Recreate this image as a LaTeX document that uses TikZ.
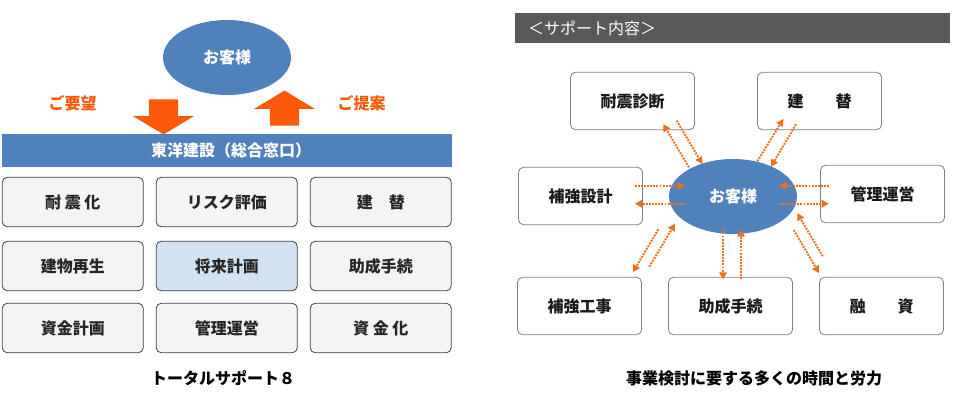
\documentclass[tikz,border=0pt]{standalone}
\usepackage{fontspec}
\setmainfont{Noto Sans CJK JP}
\usetikzlibrary{arrows.meta,positioning,shapes.geometric,shapes.arrows}
\definecolor{bluefill}{HTML}{4F81BD}
\definecolor{orangeblock}{HTML}{FC5A0A}
\definecolor{orangedot}{HTML}{E9711F}
\definecolor{greyfill}{HTML}{F4F4F4}
\definecolor{lightblue}{HTML}{D3E2F3}
\tikzset{
 label16/.style={font=\fontsize{16}{18}\selectfont\bfseries},
 guest/.style={ellipse,fill=bluefill,text=white,label16,minimum width=128pt,minimum height=75pt,inner sep=0pt},
 gridbox/.style={draw=black!75,fill=greyfill,rounded corners=5pt,line width=0.8pt,label16,text=black!85,minimum width=141pt,minimum height=49.5pt,inner sep=0pt},
 menubox/.style={draw=black!50,fill=white,rounded corners=5pt,line width=0.8pt,label16,text=black!90,minimum width=124pt,minimum height=57.4pt,inner sep=0pt},
 blockarrow/.style={single arrow,fill=orangeblock,minimum height=35pt,single arrow head extend=15.75pt,single arrow tip angle=118,inner xsep=0pt,inner ysep=14.5pt,outer sep=0pt},
 dotarrow/.style={draw=orangedot,line width=2pt,dash pattern=on 1.9pt off 1.2pt,-{Triangle[length=7pt,width=8pt,fill=orangedot,line width=0pt,sep=0pt]}}
}
\begin{document}
\begin{tikzpicture}[x=1pt,y=-1pt,on grid,node distance=64pt and 154pt]
 \useasboundingbox (0,0) rectangle (960,400);
 % left half
 \node[guest] (guest_l) at (227,57.5) {お客様};
 \node[blockarrow,rotate=-90] (request) at (163.5,112.5) {};
 \node[blockarrow,rotate=90] (proposal) at (284.5,112.5) {};
 \node[label16,text=orangeblock] (request_t) at (72.5,103) {ご要望};
 \node[label16,text=orangeblock] (proposal_t) at (361.5,103) {ご提案};
 \node[fill=bluefill,text=white,label16,minimum width=450pt,minimum height=33pt,inner sep=0pt] (window) at (227,150.5) {\hspace*{8pt}東洋建設（総合窓口）};
 \node[gridbox] (g_1) at (72.75,202) {耐 震 化};
 \node[gridbox] (g_2)[right=of g_1] {リスク評価};
 \node[gridbox] (g_3)[right=of g_2] {建　替};
 \node[gridbox] (g_4)[below=of g_1] {建物再生};
 \node[gridbox,fill=lightblue] (g_5)[right=of g_4] {将来計画};
 \node[gridbox] (g_6)[right=of g_5] {助成手続};
 \node[gridbox] (g_7)[below=62pt of g_4] {資金計画};
 \node[gridbox] (g_8)[right=of g_7] {管理運営};
 \node[gridbox] (g_9)[right=of g_8] {資 金 化};
 \node[label16] (caption_l) at (223,378) {トータルサポート８};
 % right half
 \node[fill=black!65,text=white,font=\fontsize{16}{18}\selectfont,minimum width=435pt,minimum height=30pt,inner sep=0pt,text width=409pt,align=left] (header) at (732.5,28) {＜サポート内容＞};
 \node[guest] (guest_r) at (733,196.5) {お客様};
 \node[menubox] (m_1) at (632.5,101) {耐震診断};
 \node[menubox] (m_2) at (819.5,101) {建　　替};
 \node[menubox] (m_3) at (580.5,196) {補強設計};
 \node[menubox] (m_4) at (882.5,194) {管理運営};
 \node[menubox] (m_5) at (579.5,306) {補強工事};
 \node[menubox] (m_6) at (730.5,306) {助成手続};
 \node[menubox] (m_7) at (881.5,306) {融　　資};
 \node[label16] (caption_r) at (754,378) {事業検討に要する多くの時間と労力};
 \foreach \n/\xa/\ya/\xb/\yb in {
   a/689/167.3/663.3/124.3, b/676.7/120.7/702.3/164,
   c/757.3/161.3/783.3/119, d/796/124.3/771/166.7,
   e/634.7/185.7/684.7/185.7, f/685/203.7/635/203.7,
   g/829/185.7/779.3/185.7, h/778.7/203.7/828.7/203.7,
   i/658.3/229.3/633/272, j/649.3/266.7/675/223.7,
   k/723/229.3/723/279.3, l/741/279.3/741/229.7,
   m/822.7/256.3/797.3/213.3, n/793.7/230/819/273} {
   \coordinate (\n_s) at (\xa,\ya);
   \coordinate (\n_e) at (\xb,\yb);
   \draw[dotarrow] (\n_s) -- (\n_e);
 }
\end{tikzpicture}
\end{document}
